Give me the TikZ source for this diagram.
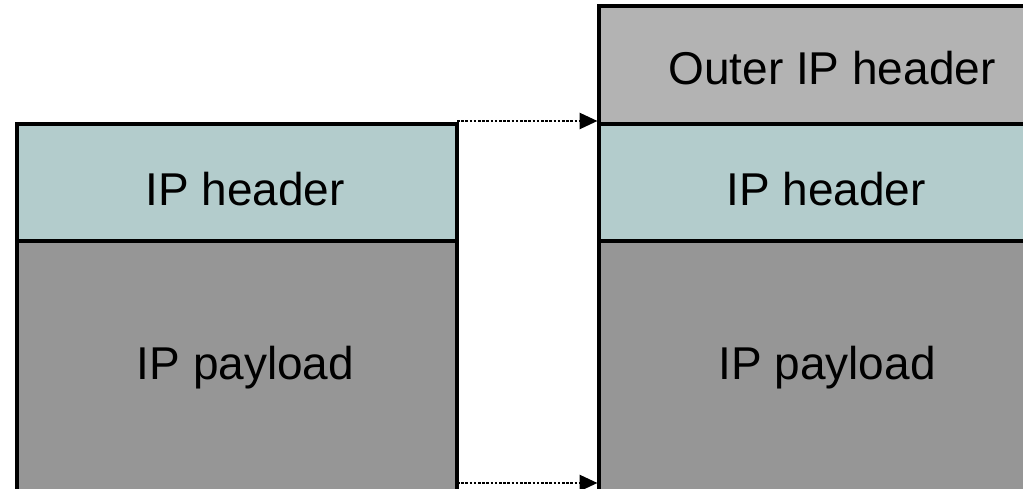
\documentclass[tikz,border=0pt]{standalone}
\usepackage{fontspec}
\setmainfont{Liberation Sans}
\usetikzlibrary{arrows.meta}
\definecolor{hdrteal}{HTML}{B3CCCC}
\definecolor{outergray}{HTML}{B3B3B3}
\definecolor{payloadgray}{HTML}{969696}
\begin{document}
\begin{tikzpicture}[x=1pt,y=1pt,
  field/.style={draw=black, line width=3.4pt, rectangle, anchor=north west,
    minimum width=440pt, outer sep=0pt, inner sep=0pt},
  hdrfield/.style={field, fill=hdrteal, minimum height=117pt},
  outerfield/.style={field, fill=outergray, minimum height=118pt},
  payfield/.style={field, fill=payloadgray, minimum height=260pt},
  lbl/.style={anchor=base, inner sep=0pt, font=\fontsize{46pt}{50pt}\selectfont},
  moveto/.style={dash pattern=on 2.6pt off 1.6pt, line width=2.8pt,
    -{Triangle[length=18pt,width=16pt]}, shorten >=1.5pt}]
\useasboundingbox (0,0) rectangle (1023,489);
\clip (0,0) rectangle (1023,489);
% original packet
\node[payfield] (lp) at (17,248) {};
\node[hdrfield] (lh) at (17,365) {};
% encapsulated packet
\node[payfield] (rp) at (599,248) {};
\node[hdrfield] (rh) at (599,365) {};
\node[outerfield] (ro) at (599,483) {};
% field labels
\node[lbl] (lhT) at ([xshift=228pt,yshift=-82pt]lh.north west) {IP header};
\node[lbl] (lpT) at ([xshift=228.5pt,yshift=-139pt]lp.north west) {IP payload};
\node[lbl] (roT) at ([xshift=233pt,yshift=-79pt]ro.north west) {Outer IP header};
\node[lbl] (rhT) at ([xshift=227pt,yshift=-82pt]rh.north west) {IP header};
\node[lbl] (rpT) at ([xshift=228pt,yshift=-139pt]rp.north west) {IP payload};
% mapping arrows
\coordinate (ybot) at (0,6);
\draw[moveto] ([yshift=3pt]lh.north east) -- ([yshift=3pt]rh.north west);
\draw[moveto] (lp.north east |- ybot) -- (rp.north west |- ybot);
\end{tikzpicture}
\end{document}
